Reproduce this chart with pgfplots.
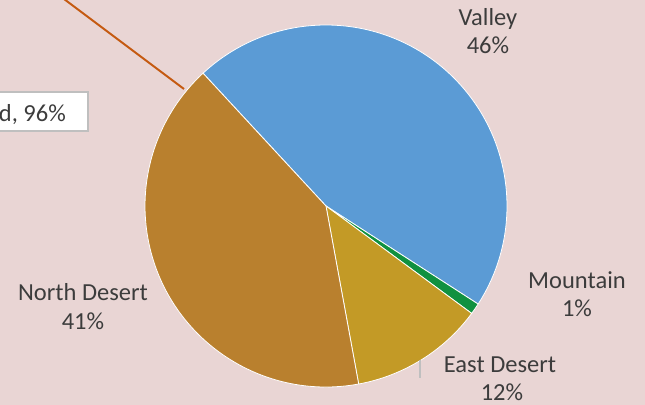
\documentclass[border=0pt]{standalone}
\usepackage{pgfplots}
\usepackage{pgfplotstable}
\pgfplotsset{compat=1.18}
\usepackage{fontspec}
\setmainfont{Carlito}
\definecolor{bg}{HTML}{E9D5D4}
\definecolor{cValley}{HTML}{5B9BD5}
\definecolor{cMountain}{HTML}{109140}
\definecolor{cEast}{HTML}{C39A26}
\definecolor{cNorth}{HTML}{B9802E}
\definecolor{txt}{HTML}{3C3C3C}
\definecolor{lineor}{HTML}{C55A11}
\definecolor{boxgray}{HTML}{BFBFBF}
\pgfplotstableread[col sep=comma]{
name,value,color
Valley,46,cValley
Mountain,1,cMountain
East Desert,12,cEast
North Desert,41,cNorth
}\piedata
\begin{document}
\begin{tikzpicture}
\fill[bg] (0,0) rectangle (645bp,405bp);
\begin{axis}[
  x=1bp, y=1bp,
  xmin=0, xmax=645, ymin=0, ymax=405,
  hide axis, clip=true,
  at={(0,0)}, anchor=south west,
]
\pgfmathsetmacro\ang{132.8}
\pgfplotsforeachungrouped \i in {0,...,3}{%
  \pgfplotstablegetelem{\i}{value}\of\piedata
  \let\val\pgfplotsretval
  \pgfplotstablegetelem{\i}{color}\of\piedata
  \let\col\pgfplotsretval
  \pgfmathsetmacro\endang{\ang-\val*3.6}%
  \edef\temp{\noexpand\fill[\col, draw=white, line width=0.8pt, line join=round]
    (axis cs:326,199) -- (axis cs:{326+181*cos(\ang)},{199+181*sin(\ang)})
    arc[start angle=\ang, end angle=\endang, radius=181bp] -- cycle;}%
  \temp
  \global\let\ang\endang
}
% leader lines
\draw[lineor, line width=2pt] (axis cs:184,316) -- (axis cs:40,424);
\draw[boxgray, line width=1.4pt] (axis cs:420,45) -- (axis cs:420,27);
% callout box
\draw[boxgray, fill=white, line width=1.2pt] (axis cs:-40,274) rectangle (axis cs:88,313);
\node[anchor=base east, inner sep=0pt, text=txt, font=\fontsize{24.5bp}{29bp}\selectfont] at (axis cs:66,284) {Farmland, 96\%};
% labels
\tikzset{lab/.style={anchor=base, inner sep=0pt, text=txt, font=\fontsize{24.5bp}{29bp}\selectfont}}
\node[lab] at (axis cs:488,380) {Valley};
\node[lab] at (axis cs:488,352) {46\%};
\node[lab] at (axis cs:577,117) {Mountain};
\node[lab] at (axis cs:577,89) {1\%};
\node[lab] at (axis cs:500,33) {East Desert};
\node[lab] at (axis cs:502,5) {12\%};
\node[lab] at (axis cs:83,105) {North Desert};
\node[lab] at (axis cs:83,76) {41\%};
\end{axis}
\pgfresetboundingbox
\useasboundingbox (0,0) rectangle (645bp,405bp);
\end{tikzpicture}
\end{document}
